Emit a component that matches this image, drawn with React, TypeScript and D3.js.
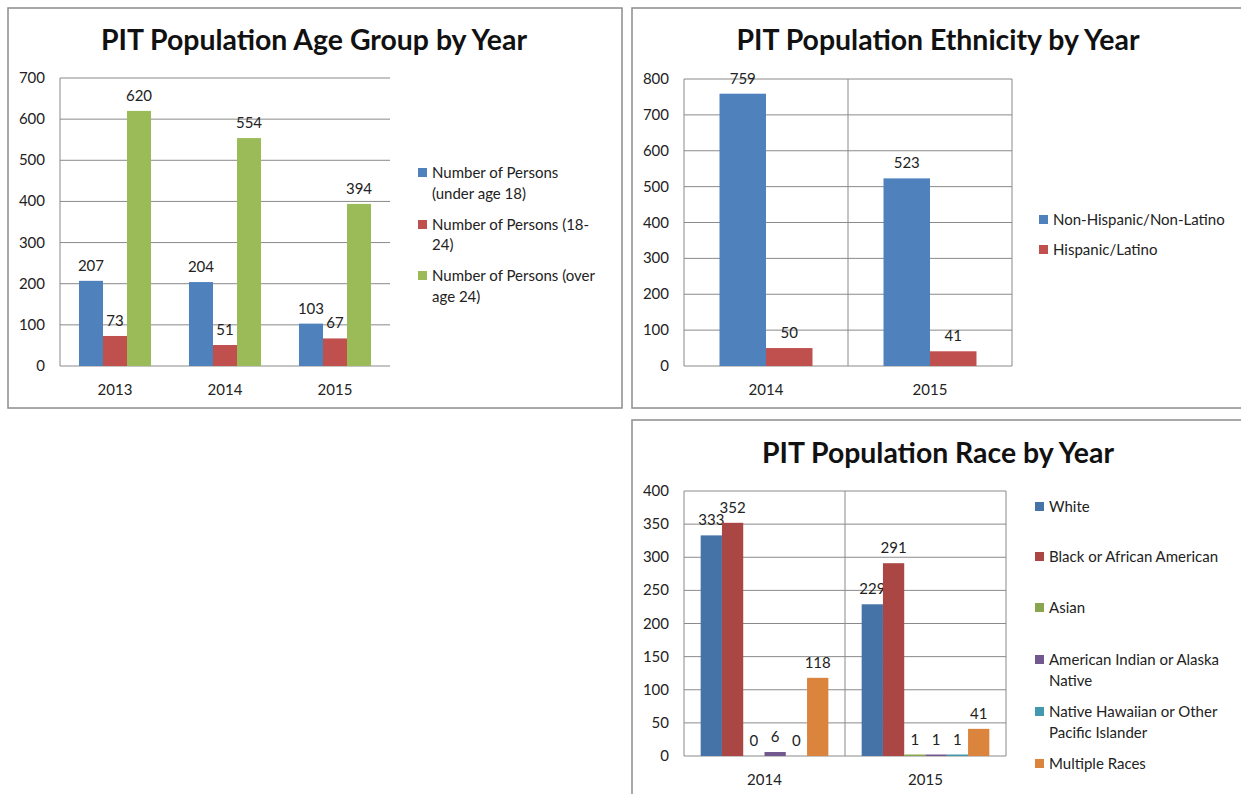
import React from 'react';
import * as d3 from 'd3';

// ---------- DATA ----------
const ageYears = ['2013', '2014', '2015'];
const ageUnder18 = [207, 204, 103];
const age18to24 = [73, 51, 67];
const ageOver24 = [620, 554, 394];
const ageLegend = [['Number of Persons', '(under age 18)'], ['Number of Persons (18-', '24)'], ['Number of Persons (over', 'age 24)']];
const ageTicks = [0, 100, 200, 300, 400, 500, 600, 700];

const ethYears = ['2014', '2015'];
const ethNonHispanic = [759, 523];
const ethHispanic = [50, 41];
const ethLegend = [['Non-Hispanic/Non-Latino'], ['Hispanic/Latino']];
const ethTicks = [0, 100, 200, 300, 400, 500, 600, 700, 800];

const raceYears = ['2014', '2015'];
const raceWhite = [333, 229];
const raceBlack = [352, 291];
const raceAsian = [0, 1];
const raceAmIndian = [6, 1];
const raceHawaiian = [0, 1];
const raceMultiple = [118, 41];
const raceLegend = [['White'], ['Black or African American'], ['Asian'], ['American Indian or Alaska', 'Native'], ['Native Hawaiian or Other', 'Pacific Islander'], ['Multiple Races']];
const raceTicks = [0, 50, 100, 150, 200, 250, 300, 350, 400];

const FONT = 'Lato, "Open Sans", sans-serif';

type Series = { values: number[]; color: string; lines: string[] };

type ChartProps = {
  box: { x: number; y: number; w: number; h: number };
  title: string;
  titleX: number;
  titleY: number;
  titleLen: number;
  plot: { x0: number; x1: number; top: number; bottom: number };
  ticks: number[];
  categories: string[];
  series: Series[];
  gapFrac: number;
  legend: { sqX: number; textX: number; ys: number[][] };
  framed: boolean;
};

function BarChart(p: ChartProps) {
  const { plot, ticks, categories, series } = p;
  const y = d3.scaleLinear().domain([0, d3.max(ticks) as number]).range([plot.bottom, plot.top]);
  const x0 = d3.scaleBand<string>().domain(categories).range([plot.x0, plot.x1]).padding(0);
  const bw = x0.bandwidth();
  const g = (bw * p.gapFrac) / 2;
  const x1 = d3.scaleBand<number>().domain(series.map((_, i) => i)).range([g, bw - g]).padding(0);
  const grid = '#8a8a8a';
  return (
    <g>
      <rect x={p.box.x} y={p.box.y} width={p.box.w} height={p.box.h} fill="#fff" stroke="#8c8c8c" strokeWidth={1.5} />
      <text x={p.titleX} y={p.titleY} textAnchor="middle" fontFamily={FONT} fontWeight="bold" fontSize={28} fill="#111"
        textLength={p.titleLen} lengthAdjust="spacingAndGlyphs">{p.title}</text>
      {ticks.map((t) => (
        <g key={t}>
          <line x1={plot.x0} x2={plot.x1} y1={y(t)} y2={y(t)} stroke={grid} strokeWidth={1} />
          <text x={plot.x0 - 15} y={y(t) + 5} textAnchor="end" fontFamily={FONT} fontSize={15} fill="#222">{t}</text>
        </g>
      ))}
      <line x1={plot.x0} x2={plot.x0} y1={plot.top} y2={plot.bottom} stroke={grid} />
      {p.framed && (
        <g>
          <line x1={plot.x1} x2={plot.x1} y1={plot.top} y2={plot.bottom} stroke={grid} />
          {categories.slice(1).map((c) => (
            <line key={c} x1={x0(c)} x2={x0(c)} y1={plot.top} y2={plot.bottom} stroke={grid} />
          ))}
        </g>
      )}
      {categories.map((c, ci) => (
        <g key={c}>
          {series.map((s, si) => {
            const v = s.values[ci];
            const bx = (x0(c) as number) + (x1(si) as number);
            const w = x1.bandwidth();
            const h = Math.max(plot.bottom - y(v), v > 0 ? 1.5 : 0);
            return (
              <g key={si}>
                <rect x={bx} y={plot.bottom - h} width={w} height={h} fill={s.color} />
                <text x={bx + w / 2} y={y(v) - 10} textAnchor="middle" fontFamily={FONT} fontSize={15} fill="#222">{v}</text>
              </g>
            );
          })}
          <text x={(x0(c) as number) + bw / 2} y={plot.bottom + 29} textAnchor="middle" fontFamily={FONT} fontSize={15} fill="#222">{c}</text>
        </g>
      ))}
      {series.map((s, si) => (
        <g key={si}>
          <rect x={p.legend.sqX} y={p.legend.ys[si][0] - 5} width={9} height={9} fill={s.color} />
          {s.lines.map((ln, li) => (
            <text key={li} x={p.legend.textX} y={p.legend.ys[si][li] + 5} fontFamily={FONT} fontSize={15} fill="#222">{ln}</text>
          ))}
        </g>
      ))}
    </g>
  );
}

export default function App() {
  const ageSeries: Series[] = [
    { values: ageUnder18, color: '#4F81BD', lines: ageLegend[0] },
    { values: age18to24, color: '#C0504D', lines: ageLegend[1] },
    { values: ageOver24, color: '#9BBB59', lines: ageLegend[2] },
  ];
  const ethSeries: Series[] = [
    { values: ethNonHispanic, color: '#4F81BD', lines: ethLegend[0] },
    { values: ethHispanic, color: '#C0504D', lines: ethLegend[1] },
  ];
  const raceSeries: Series[] = [
    { values: raceWhite, color: '#4572A7', lines: raceLegend[0] },
    { values: raceBlack, color: '#AA4643', lines: raceLegend[1] },
    { values: raceAsian, color: '#89A54E', lines: raceLegend[2] },
    { values: raceAmIndian, color: '#71588F', lines: raceLegend[3] },
    { values: raceHawaiian, color: '#4198AF', lines: raceLegend[4] },
    { values: raceMultiple, color: '#DB843D', lines: raceLegend[5] },
  ];
  return (
    <svg width={1241} height={794} style={{ position: 'absolute', left: 0, top: 0, background: '#fff' }}>
      <rect x={0} y={0} width={1241} height={794} fill="#fff" />
      <BarChart
        box={{ x: 8, y: 8, w: 614, h: 400 }}
        title="PIT Population Age Group by Year" titleX={314} titleY={50} titleLen={426}
        plot={{ x0: 60, x1: 390, top: 78, bottom: 366 }}
        ticks={ageTicks} categories={ageYears} series={ageSeries} gapFrac={0.345}
        legend={{ sqX: 418, textX: 432, ys: [[173, 194], [225, 245], [276, 297]] }}
        framed={false}
      />
      <BarChart
        box={{ x: 632, y: 8, w: 620, h: 400 }}
        title="PIT Population Ethnicity by Year" titleX={938} titleY={50} titleLen={403}
        plot={{ x0: 684, x1: 1012, top: 79, bottom: 366 }}
        ticks={ethTicks} categories={ethYears} series={ethSeries} gapFrac={0.433}
        legend={{ sqX: 1039, textX: 1053, ys: [[220], [250]] }}
        framed={true}
      />
      <BarChart
        box={{ x: 632, y: 420, w: 620, h: 390 }}
        title="PIT Population Race by Year" titleX={938} titleY={463} titleLen={352}
        plot={{ x0: 684, x1: 1006, top: 491, bottom: 756 }}
        ticks={raceTicks} categories={raceYears} series={raceSeries} gapFrac={0.207}
        legend={{ sqX: 1035, textX: 1049, ys: [[507], [557], [608], [660, 681], [712, 733], [764]] }}
        framed={true}
      />
    </svg>
  );
}
